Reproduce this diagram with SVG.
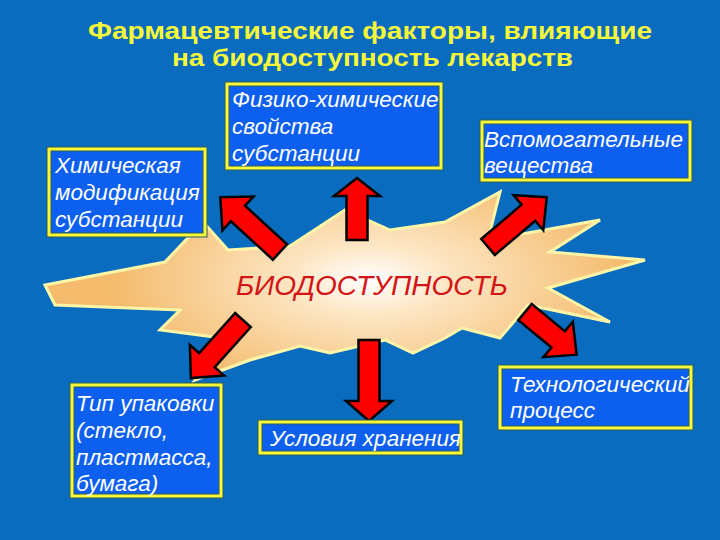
<svg xmlns="http://www.w3.org/2000/svg" width="720" height="540" viewBox="0 0 720 540">
<defs>
<radialGradient id="burst" cx="370" cy="280" r="260" gradientUnits="userSpaceOnUse" gradientTransform="translate(370 280) scale(1 0.45) translate(-370 -280)">
<stop offset="0" stop-color="#ffffff"/>
<stop offset="0.3" stop-color="#fde6c4"/>
<stop offset="1" stop-color="#f4bb6c"/>
</radialGradient>
<style>
.frame{fill:#f8f83a;stroke:#2e5e55;stroke-width:1}
.inner{fill:#0d5ff0;stroke:#2e5e55;stroke-width:1}
.lbl{font-family:"Liberation Sans",Arial,sans-serif;font-style:italic;font-size:22.5px;fill:#ffffff}
.title{font-family:"Liberation Sans",Arial,sans-serif;font-weight:bold;font-size:23px;fill:#f8f83a}
.arrow{fill:#ff0000;stroke:#000000;stroke-width:2.5;stroke-linejoin:miter}
</style>
</defs>
<rect x="0" y="0" width="720" height="540" fill="#0a6cbe"/>
<g id="title">
<text class="title" x="88" y="39" textLength="564" lengthAdjust="spacingAndGlyphs">Фармацевтические факторы, влияющие</text>
<text class="title" x="172" y="66" textLength="401" lengthAdjust="spacingAndGlyphs">на биодоступность лекарств</text>
</g>
<g id="burst-node">
<polygon fill="url(#burst)" stroke="#fff6a8" stroke-width="3" stroke-linejoin="miter" points="45,285 165,262 203,222 228,250 290,246 345,210 390,230 445,222 500,192 488,240 600,220 550,252 645,260 548,288 610,322 528,305 500,338 462,328 445,338 413,353 385,340 330,353 300,346 250,360 195,380 222,338 160,330 180,310 55,305"/>
<text x="372" y="295" text-anchor="middle" font-family="'Liberation Sans',Arial,sans-serif" font-style="italic" font-size="28" fill="#d41414">БИОДОСТУПНОСТЬ</text>
</g>
<g id="connectors">
<path class="arrow" transform="translate(357 240) rotate(-90)" d="M0,-10.5 L44,-10.5 L44,-23 L62,0 L44,23 L44,10.5 L0,10.5 Z"/>
<path class="arrow" transform="translate(369 340) rotate(90)" d="M0,-10.5 L61,-10.5 L61,-23 L81,0 L61,23 L61,10.5 L0,10.5 Z"/>
<path class="arrow" transform="translate(280 252) rotate(-137.5)" d="M0,-10.5 L57,-10.5 L57,-23 L81,0 L57,23 L57,10.5 L0,10.5 Z"/>
<path class="arrow" transform="translate(488 247) rotate(-40.3)" d="M0,-10.5 L53,-10.5 L53,-23 L77,0 L53,23 L53,10.5 L0,10.5 Z"/>
<path class="arrow" transform="translate(243 320) rotate(131.9)" d="M0,-10.5 L54,-10.5 L54,-23 L78,0 L54,23 L54,10.5 L0,10.5 Z"/>
<path class="arrow" transform="translate(525 312) rotate(39.6)" d="M0,-10.5 L43,-10.5 L43,-23 L67,0 L43,23 L43,10.5 L0,10.5 Z"/>
</g>
<g id="node-chem-mod">
<rect class="frame" x="47" y="147" width="160" height="90"/>
<rect class="inner" x="51" y="151" width="152" height="82"/>
<text class="lbl" x="55" y="173">Химическая</text>
<text class="lbl" x="55" y="200">модификация</text>
<text class="lbl" x="55" y="227">субстанции</text>
</g>
<g id="node-physchem">
<rect class="frame" x="225" y="82" width="218" height="88"/>
<rect class="inner" x="229" y="86" width="210" height="80"/>
<text class="lbl" x="232" y="107">Физико-химические</text>
<text class="lbl" x="232" y="134">свойства</text>
<text class="lbl" x="232" y="161">субстанции</text>
</g>
<g id="node-excipients">
<rect class="frame" x="480" y="120" width="212" height="62"/>
<rect class="inner" x="484" y="124" width="204" height="54"/>
<text class="lbl" x="484" y="147">Вспомогательные</text>
<text class="lbl" x="484" y="173">вещества</text>
</g>
<g id="node-package">
<rect class="frame" x="70" y="383" width="153" height="115"/>
<rect class="inner" x="74" y="387" width="145" height="107"/>
<text class="lbl" x="76" y="411">Тип упаковки</text>
<text class="lbl" x="76" y="438">(стекло,</text>
<text class="lbl" x="76" y="465">пластмасса,</text>
<text class="lbl" x="76" y="491">бумага)</text>
</g>
<g id="node-storage">
<rect class="frame" x="258" y="420" width="205" height="35"/>
<rect class="inner" x="262" y="424" width="197" height="27"/>
<text class="lbl" x="270" y="446">Условия хранения</text>
</g>
<g id="node-tech">
<rect class="frame" x="498" y="365" width="195" height="65"/>
<rect class="inner" x="502" y="369" width="187" height="57"/>
<text class="lbl" x="510" y="392">Технологический</text>
<text class="lbl" x="510" y="418">процесс</text>
</g>
</svg>
